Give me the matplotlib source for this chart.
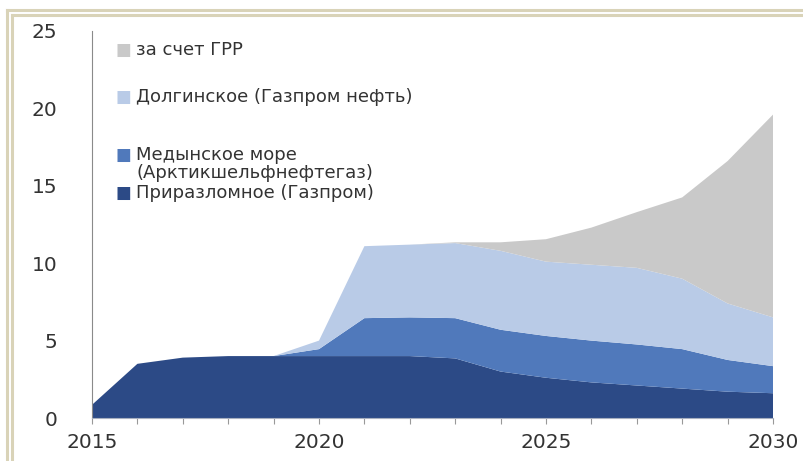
import matplotlib.pyplot as plt
from matplotlib.lines import Line2D

plt.rcParams['font.family'] = ['DejaVu Sans']

# добыча по проектам, млн т
years = list(range(2015, 2031))
prirazlomnoe = [0.85, 3.5, 3.9, 4.0, 4.0, 4.0, 4.0, 4.0, 3.85, 3.0, 2.6, 2.3, 2.1, 1.9, 1.7, 1.6]
medynskoe = [0, 0, 0, 0, 0, 0.45, 2.45, 2.5, 2.6, 2.7, 2.7, 2.7, 2.65, 2.55, 2.05, 1.75]
dolginskoe = [0, 0, 0, 0, 0, 0.55, 4.65, 4.7, 4.85, 5.1, 4.8, 4.9, 4.95, 4.55, 3.65, 3.15]
grr = [0, 0, 0, 0, 0, 0, 0, 0, 0.05, 0.55, 1.45, 2.4, 3.6, 5.25, 9.2, 13.1]

labels = ['Приразломное (Газпром)', 'Медынское море\n(Арктикшельфнефтегаз)',
          'Долгинское (Газпром нефть)', 'за счет ГРР']
colors = ['#2c4a86', '#5079bb', '#b9cbe7', '#c9c9c9']

fig = plt.figure(figsize=(8.04, 4.61), dpi=100)
ax = fig.add_axes([92 / 804, 1 - 418 / 461, (773 - 92) / 804, (418 - 31) / 461])

ax.stackplot(years, prirazlomnoe, medynskoe, dolginskoe, grr, colors=colors, linewidth=0)

ax.set_xlim(2015, 2030)
ax.set_ylim(0, 25)
ax.set_xticks(years)
ax.set_xticklabels([str(y) if y % 5 == 0 else '' for y in years])
ax.set_yticks([0, 5, 10, 15, 20, 25])
ax.tick_params(axis='x', direction='out', length=4, color='#999999', pad=7,
               labelsize=14.5, labelcolor='#333333')
ax.tick_params(axis='y', length=0, pad=25, labelsize=14.5, labelcolor='#333333')

for s in ['top', 'right']:
    ax.spines[s].set_visible(False)
ax.spines['left'].set_color('#8a8a8a')
ax.spines['bottom'].set_color('#a8b0c0')

# подписи серий слева вверху
legend_items = [
    ('за счет ГРР', colors[3], 50, 50),
    ('Долгинское (Газпром нефть)', colors[2], 97, 97),
    ('Медынское море\n(Арктикшельфнефтегаз)', colors[1], 155, 164),
    ('Приразломное (Газпром)', colors[0], 193, 193),
]
for text, c, y_mark, y_text in legend_items:
    fig.text(116 / 804, 1 - y_mark / 461, '■', color=c, fontsize=12, va='center', ha='left')
    fig.text(136 / 804, 1 - y_text / 461, text, color='#333333', fontsize=13,
             va='center', ha='left', linespacing=1.05)

# двойная рамка сверху и слева
beige = '#d9d3b8'
for off in (0, 5):
    fig.add_artist(Line2D([(7 + off) / 804, 1], [1 - (10 + off) / 461] * 2,
                          transform=fig.transFigure, color=beige, linewidth=2.2))
    fig.add_artist(Line2D([(7 + off) / 804] * 2, [1 - (10 + off) / 461, 0],
                          transform=fig.transFigure, color=beige, linewidth=2.2))

fig.savefig('out.png', dpi=100)
